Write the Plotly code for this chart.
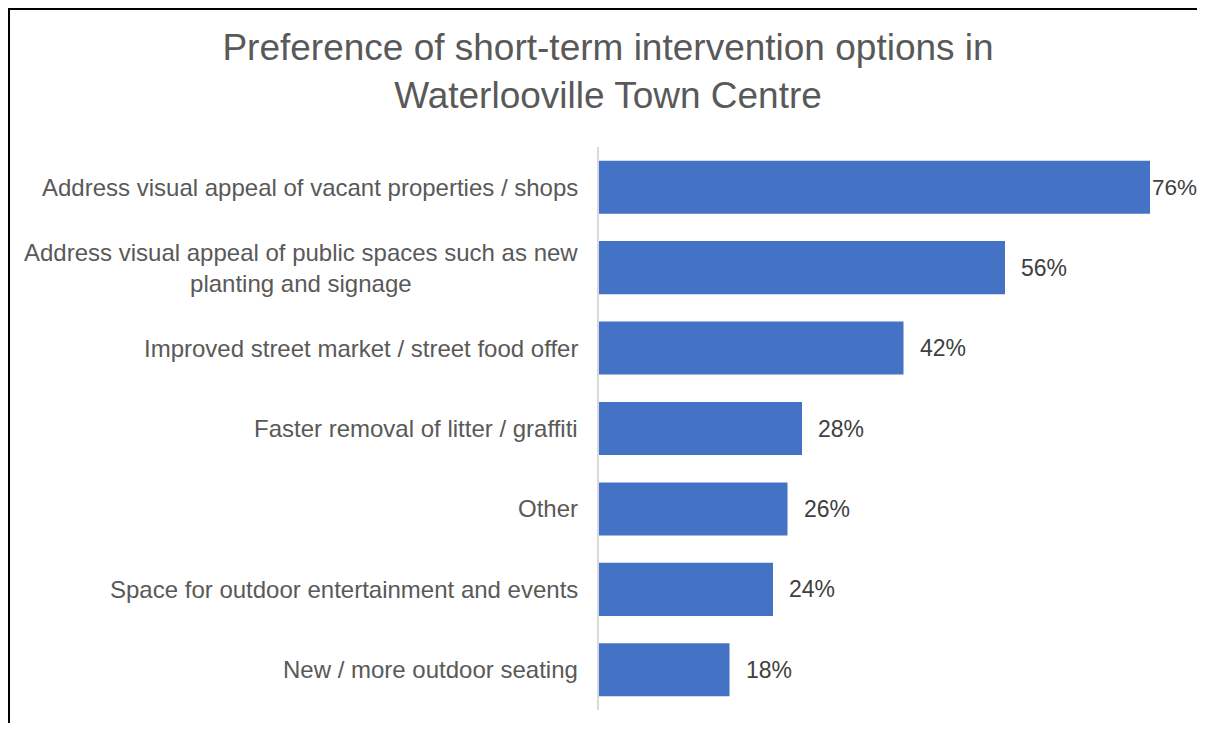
import plotly.graph_objects as go

categories = [
    "Address visual appeal of vacant properties / shops",
    "Address visual appeal of public spaces such as new<br>planting and signage",
    "Improved street market / street food offer",
    "Faster removal of litter / graffiti",
    "Other",
    "Space for outdoor entertainment and events",
    "New / more outdoor seating",
]
values = [76, 56, 42, 28, 26, 24, 18]
value_labels = ["76%", "56%", "42%", "28%", "26%", "24%", "18%"]

# The page body has an 8px margin, so the figure is sized to fit the window.
W, H = 1189, 715
ML, MR, MT, MB = 591, 18, 139, 13
XMAX = 80
FONT = "Liberation Sans, Arial, sans-serif"

fig = go.Figure()
fig.add_trace(go.Bar(
    y=categories, x=values, orientation="h",
    marker=dict(color="#4472C4", line=dict(width=0)),
    width=0.66, hoverinfo="skip",
))

annotations = []
for c in categories:
    annotations.append(dict(
        xref="paper", yref="y", x=0, y=c, xanchor="right", yanchor="middle",
        xshift=-19, text=c, showarrow=False, align="center",
        font=dict(family=FONT, size=24, color="#595959"),
    ))
vmax = max(values)
for c, v, t in zip(categories, values, value_labels):
    annotations.append(dict(
        xref="x", yref="y", x=v, y=c, xanchor="left", yanchor="middle",
        xshift=0 if v == vmax else 14, text=t, showarrow=False,
        font=dict(family=FONT, size=22.5 if v == vmax else 23, color="#404040"),
    ))

pw = W - ML - MR
ph = H - MT - MB
def px_to_paper_x(px):
    return (px - ML) / pw
def px_to_paper_y(py):
    return (H - MB - py) / ph

shapes = [
    dict(type="line", xref="paper", yref="paper",
         x0=px_to_paper_x(1), x1=px_to_paper_x(1),
         y0=px_to_paper_y(0), y1=px_to_paper_y(H + 5),
         line=dict(color="black", width=2)),
    dict(type="line", xref="paper", yref="paper",
         x0=px_to_paper_x(0), x1=px_to_paper_x(W + 5),
         y0=px_to_paper_y(1), y1=px_to_paper_y(1),
         line=dict(color="black", width=2)),
]

fig.update_layout(
    width=W, height=H,
    margin=dict(l=ML, r=MR, t=MT, b=MB, pad=0),
    paper_bgcolor="white", plot_bgcolor="white",
    showlegend=False,
    title=dict(
        text="Preference of short-term intervention options in<br>Waterlooville Town Centre",
        x=600 / W, xanchor="center", xref="container",
        y=1 - 52 / H, yanchor="top", yref="container",
        font=dict(family=FONT, size=37, color="#595959"),
    ),
    xaxis=dict(range=[0, XMAX], visible=False, fixedrange=True),
    yaxis=dict(
        autorange="reversed", showticklabels=False, ticks="",
        showline=True, linecolor="#D9D9D9", linewidth=1.5,
        showgrid=False, zeroline=False,
    ),
    annotations=annotations,
    shapes=shapes,
    bargap=0.34,
)

fig.write_html("out.html")
